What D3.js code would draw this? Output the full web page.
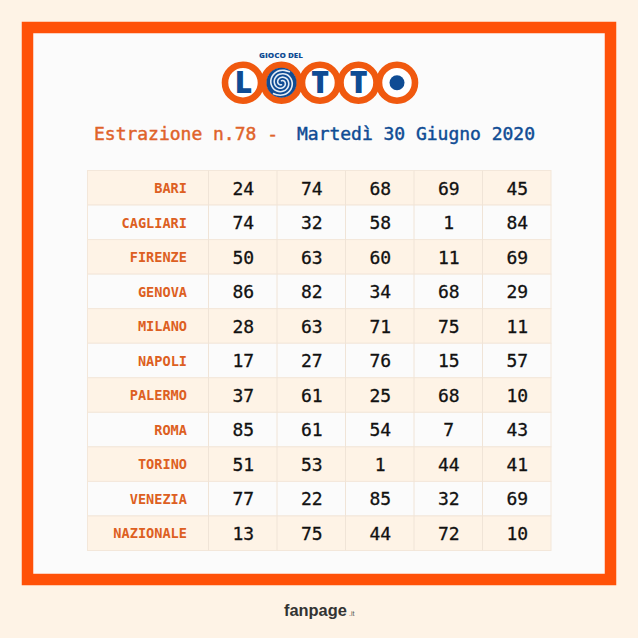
<!DOCTYPE html>
<html><head><meta charset="utf-8">
<script src="https://cdn.jsdelivr.net/npm/d3@7"></script>
<style>html,body{margin:0;padding:0;background:#fef3e6;overflow:hidden}svg{display:block}</style>
</head><body><svg id="c" width="638" height="638"></svg>
<script>
const cities = ["BARI","CAGLIARI","FIRENZE","GENOVA","MILANO","NAPOLI","PALERMO","ROMA","TORINO","VENEZIA","NAZIONALE"];
const draws = [
 [24,74,68,69,45],[74,32,58,1,84],[50,63,60,11,69],[86,82,34,68,29],[28,63,71,75,11],
 [17,27,76,15,57],[37,61,25,68,10],[85,61,54,7,43],[51,53,1,44,41],[77,22,85,32,69],[13,75,44,72,10]];
const columns = [0,1,2,3,4];
const logoLetters = ["L","swirl","T","T","dot"];
const titleLeft = "Estrazione n.78 -";
const titleRight = "Martedì 30 Giugno 2020";

const mono = "'DejaVu Sans Mono','Liberation Mono',monospace";
const orange = "#ff5108", blue = "#0f4c94", labelC = "#dd5f22";
const svg = d3.select("#c");
svg.append("rect").attr("x",27.5).attr("y",27.5).attr("width",583).attr("height",552)
  .attr("fill","#fbfbfb").attr("stroke",orange).attr("stroke-width",11.5);

// logo
const lx = d3.scalePoint().domain(d3.range(logoLetters.length)).range([243,397]);
const logo = svg.append("g");
logo.append("text").attr("x",259).attr("y",57.5).attr("textLength",44).attr("lengthAdjust","spacingAndGlyphs")
  .attr("font-family","'Open Sans',sans-serif").attr("font-weight",800).attr("font-size",7.6)
  .attr("fill",blue).text("GIOCO DEL");
const spiral = d3.lineRadial().curve(d3.curveBasis);
logoLetters.forEach((l,i)=>{
  const g = logo.append("g").attr("transform",`translate(${lx(i)},82.7)`);
  g.append("circle").attr("r",18).attr("fill","#fff").attr("stroke","#f0590f").attr("stroke-width",6.6);
  if(l==="L"||l==="T"){
    g.append("text").attr("y",10.6).attr("x",l==="L"?.5:0).attr("text-anchor","middle")
      .attr("font-family","'Open Sans',sans-serif").attr("font-weight",800)
      .attr("font-size",30).attr("fill",blue).text(l);
  } else if(l==="dot"){
    g.append("circle").attr("r",7.5).attr("fill",blue);
  } else {
    g.append("circle").attr("r",15).attr("fill",blue);
    [0, Math.PI].forEach(off=>{
      const pts = d3.range(0,1.001,.04).map(t=>[off+t*Math.PI*3.2, 2+t*11.5]);
      g.append("path").attr("d",spiral(pts)).attr("fill","none").attr("stroke","#e4edf6")
        .attr("stroke-width",1.6).attr("stroke-linecap","round");
    });
  }
});

// title
svg.selectAll("text.title").data([
  {t:titleLeft,x:94,w:184,c:"#e0632a"},{t:titleRight,x:297,w:238,c:blue}]).join("text").attr("class","title")
  .attr("x",d=>d.x).attr("y",140).attr("font-family",mono).attr("font-size",18)
  .attr("fill",d=>d.c).attr("stroke",d=>d.c).attr("stroke-width",.45).attr("textLength",d=>d.w).text(d=>d.t);

// table
const y = d3.scaleBand().domain(cities).range([170.5,550.5]);
const x = d3.scaleBand().domain(columns).range([208.5,551]);
const left = 87.5;
const rows = svg.append("g").selectAll("g").data(cities).join("g");
rows.append("rect").attr("x",left).attr("y",d=>y(d)).attr("width",551-left).attr("height",y.bandwidth())
  .attr("fill",(d,i)=>i%2?"#fbfbfb":"#fef3e6").attr("stroke","#f3e7da").attr("stroke-width",1);
rows.append("text").attr("x",187).attr("y",d=>y(d)+y.bandwidth()/2+5.2).attr("text-anchor","end")
  .attr("font-family",mono).attr("font-size",13.6).attr("font-weight",700).attr("fill",labelC).text(d=>d);
svg.append("g").selectAll("line").data(columns).join("line")
  .attr("x1",d=>x(d)).attr("x2",d=>x(d)).attr("y1",170.5).attr("y2",550.5)
  .attr("stroke","#f0e4d7");
rows.selectAll("text.v").data((d,i)=>draws[i].map((v,j)=>({v,j,city:d}))).join("text").attr("class","v")
  .attr("x",d=>x(d.j)+x.bandwidth()/2+.5).attr("y",d=>y(d.city)+y.bandwidth()/2+6.8)
  .attr("text-anchor","middle").attr("font-family",mono).attr("font-size",18).attr("fill","#111")
  .attr("stroke","#111").attr("stroke-width",.3).text(d=>d.v);

// footer
svg.append("text").attr("x",284).attr("y",616).attr("font-family","'Liberation Sans',sans-serif").attr("fill","#333")
  .attr("font-size",16.4).attr("font-weight",700).text("fanpage");
svg.append("text").attr("x",349).attr("y",616).attr("font-family","'Liberation Sans',sans-serif").attr("fill","#555")
  .attr("font-size",7).text(".it");
</script></body></html>
